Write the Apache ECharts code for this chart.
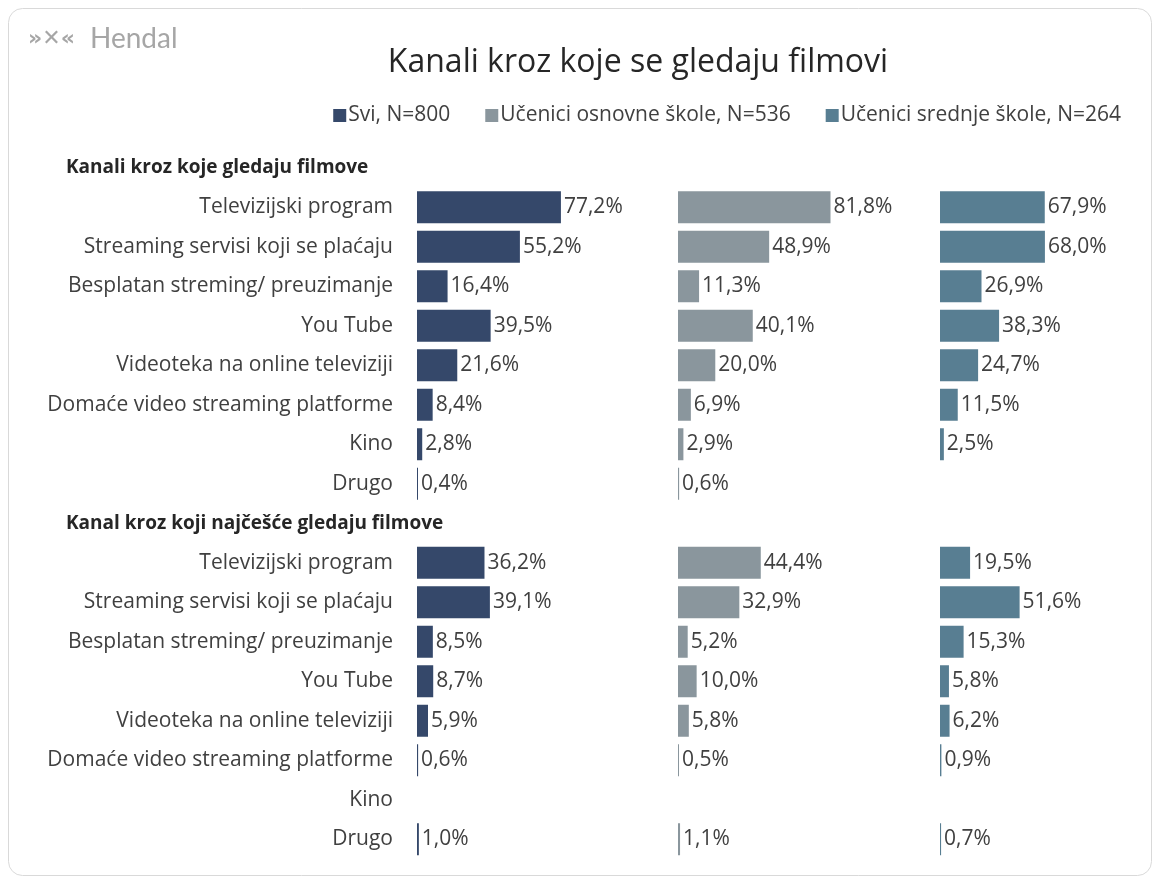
<!DOCTYPE html>
<html>
<head>
<meta charset="utf-8">
<script src="https://cdn.jsdelivr.net/npm/echarts@6/dist/echarts.min.js"></script>
<style>
  html, body { margin: 0; padding: 0; background: #fff; }
  #main { width: 1156px; height: 879px; }
</style>
</head>
<body>
<div id="main"></div>
<script>
// podaci
const categories = [
  'Kanali kroz koje gledaju filmove',
  'Televizijski program', 'Streaming servisi koji se plaćaju', 'Besplatan streming/ preuzimanje',
  'You Tube', 'Videoteka na online televiziji', 'Domaće video streaming platforme', 'Kino', 'Drugo',
  'Kanal kroz koji najčešće gledaju filmove',
  'Televizijski program', 'Streaming servisi koji se plaćaju', 'Besplatan streming/ preuzimanje',
  'You Tube', 'Videoteka na online televiziji', 'Domaće video streaming platforme', 'Kino', 'Drugo'
];
const headerRows = [0, 9];
const seriesNames = ['Svi, N=800', 'Učenici osnovne škole, N=536', 'Učenici srednje škole, N=264'];
const svi      = [null, 77.2, 55.2, 16.4, 39.5, 21.6, 8.4, 2.8, 0.4, null, 36.2, 39.1, 8.5, 8.7, 5.9, 0.6, null, 1.0];
const osnovne  = [null, 81.8, 48.9, 11.3, 40.1, 20.0, 6.9, 2.9, 0.6, null, 44.4, 32.9, 5.2, 10.0, 5.8, 0.5, null, 1.1];
const srednje  = [null, 67.9, 68.0, 26.9, 38.3, 24.7, 11.5, 2.5, null, null, 19.5, 51.6, 15.3, 5.8, 6.2, 0.9, null, 0.7];
const colors = ['#35486a', '#8a969d', '#587e92'];

const FONT = 'Open Sans';
let myChart = echarts.init(document.getElementById('main'));

const gridLefts = [417, 678, 940];
const grids = gridLefts.map(l => ({ left: l, top: 148, width: 261, height: 711 }));
const xAxes = gridLefts.map((l, i) => ({
  type: 'value', gridIndex: i, min: 0, max: 140, show: false
}));
const yAxes = [
  {
    type: 'category', gridIndex: 0, data: categories, inverse: true,
    axisLine: { show: false }, axisTick: { show: false },
    axisLabel: {
      margin: 24, color: '#404040', fontSize: 21, fontFamily: FONT,
      formatter: (v, idx) => headerRows.includes(idx) ? '' : v
    }
  },
  {
    // naslovi grupa, poravnati lijevo
    type: 'category', gridIndex: 0, data: categories, inverse: true, position: 'left',
    axisLine: { show: false }, axisTick: { show: false },
    axisLabel: {
      margin: 351, align: 'left', color: '#262626', fontSize: 19, fontWeight: 'bold', fontFamily: FONT,
      formatter: (v, idx) => headerRows.includes(idx) ? v : ''
    }
  },
  { type: 'category', gridIndex: 1, data: categories, inverse: true, show: false },
  { type: 'category', gridIndex: 2, data: categories, inverse: true, show: false }
];

const dataSets = [svi, osnovne, srednje];
const series = dataSets.map((d, i) => ({
  name: seriesNames[i],
  type: 'bar',
  xAxisIndex: i,
  yAxisIndex: i === 0 ? 0 : i + 1,
  data: d,
  barWidth: 32,
  barMinHeight: 1,
  itemStyle: { color: colors[i] },
  label: {
    show: true, position: 'right', distance: 3,
    color: '#404040', fontSize: 21, fontFamily: FONT,
    formatter: p => p.value == null ? '' : p.value.toFixed(1).replace('.', ',') + '%'
  }
}));

myChart.setOption({
  animation: false,
  color: colors,
  title: {
    text: 'Kanali kroz koje se gledaju filmovi',
    left: 633, top: 42, textAlign: 'center',
    textStyle: { fontFamily: FONT, fontSize: 32, fontWeight: 'normal', color: '#262626' }
  },
  legend: {
    data: seriesNames,
    right: 30, top: 100,
    icon: 'rect', itemWidth: 13, itemHeight: 13, itemGap: 35,
    textStyle: { fontFamily: FONT, fontSize: 21, color: '#404040', padding: [0, 0, 0, -3] }
  },
  graphic: [
    {
      type: 'rect', left: 6, top: 6, z: -1,
      shape: { width: 1143, height: 867, r: 14 },
      style: { fill: 'none', stroke: '#d9d9d9', lineWidth: 1 }
    },
    {
      type: 'text', left: 28, top: 28,
      style: { text: '»✕«', fontFamily: 'DejaVu Sans', fontSize: 22, fontWeight: 'bold', fill: '#a6a6a6' }
    },
    {
      type: 'text', left: 90, top: 25,
      style: { text: 'Hendal', fontFamily: 'Lato', fontSize: 28, fill: '#a6a6a6' }
    }
  ],
  grid: grids,
  xAxis: xAxes,
  yAxis: yAxes,
  series: series
});
</script>
</body>
</html>
